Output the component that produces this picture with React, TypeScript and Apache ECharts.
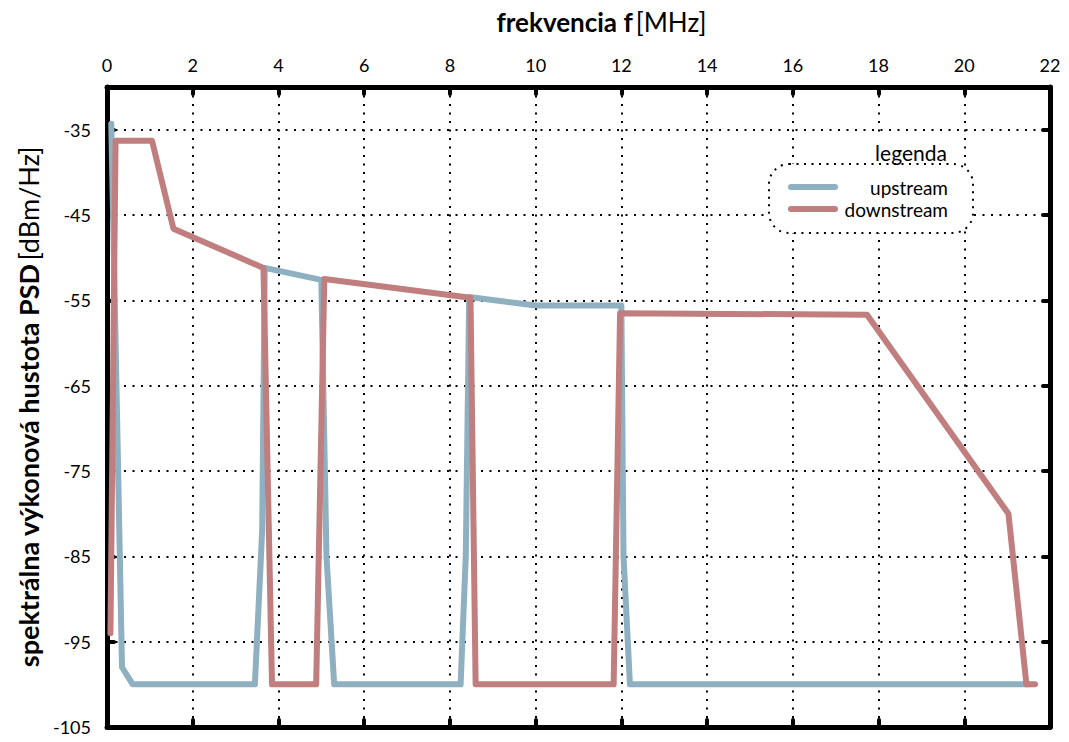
import React, { useEffect, useRef } from "react";
import * as echarts from "echarts";

const upX = [0.1, 0.35, 0.6, 3.45, 3.62, 3.68, 5.0, 5.12, 5.3, 8.25, 8.37, 8.45, 10.0, 12.0, 12.05, 12.2, 21.5];
const upY = [-34.3, -98, -100, -100, -82, -51.2, -52.6, -85, -100, -100, -85, -54.6, -55.6, -55.6, -85, -100, -100];

const dnX = [0.08, 0.2, 1.05, 1.55, 3.65, 3.85, 4.88, 5.07, 8.48, 8.6, 11.82, 11.97, 17.73, 21.03, 21.45, 21.65];
const dnY = [-94, -36.3, -36.3, -46.6, -51.2, -100, -100, -52.5, -54.7, -100, -100, -56.5, -56.7, -80, -100, -100];

const seriesNames = ["upstream", "downstream"];
const colors = ["#8fb0c0", "#c07e7e"];

const FONT = "Lato, 'Open Sans', sans-serif";

export default function App() {
  const ref = useRef<HTMLDivElement>(null);
  useEffect(() => {
    if (!ref.current) return;
    const chart = echarts.init(ref.current, undefined, { renderer: "svg" });
    const upData = upX.map((x, i) => [x, upY[i]]);
    const dnData = dnX.map((x, i) => [x, dnY[i]]);
    const gridLine = { show: true, lineStyle: { color: "#000", width: 2, type: [2, 6.5] as any } };
    const axisLine = { show: true, onZero: false, lineStyle: { color: "#000", width: 5 } };
    const axisTick = { show: true, inside: true, length: 7, lineStyle: { color: "#000", width: 4, cap: "round" as any } };
    chart.setOption({
      animation: false,
      textStyle: { fontFamily: FONT },
      grid: { left: 107, right: 19, top: 87, bottom: 15, containLabel: false, outerBoundsMode: "none" },
      xAxis: [
        {
          type: "value",
          position: "top",
          min: 0,
          max: 22,
          interval: 2,
          axisLine,
          axisTick,
          splitLine: gridLine,
          axisLabel: { color: "#000", fontSize: 18, margin: 13, fontFamily: FONT },
          name: "{b|frekvencia f} {n|[MHz]}",
          nameLocation: "middle",
          nameGap: 52,
          nameTextStyle: {
            padding: [0, 0, 0, 46],
            rich: {
              b: { fontSize: 26, fontWeight: "bold", color: "#000", fontFamily: FONT },
              n: { fontSize: 26, color: "#000", fontFamily: FONT },
            },
          },
        },
        {
          type: "value",
          position: "bottom",
          min: 0,
          max: 22,
          interval: 2,
          axisLine,
          axisTick,
          splitLine: { show: false },
          axisLabel: { show: false },
        },
      ],
      yAxis: [
        {
          type: "value",
          position: "left",
          min: -105,
          max: -30,
          interval: 10,
          axisLine,
          axisTick,
          splitLine: gridLine,
          axisLabel: { color: "#000", fontSize: 18, margin: 16, showMaxLabel: false, fontFamily: FONT },
          name: "{b|spektrálna výkonová hustota PSD} {n|[dBm/Hz]}",
          nameLocation: "middle",
          nameRotate: 90,
          nameGap: 64,
          nameTextStyle: {
            rich: {
              b: { fontSize: 27, fontWeight: "bold", color: "#000", fontFamily: FONT },
              n: { fontSize: 27, color: "#000", fontFamily: FONT },
            },
          },
        },
        {
          type: "value",
          position: "right",
          min: -105,
          max: -30,
          interval: 10,
          axisLine,
          axisTick,
          splitLine: { show: false },
          axisLabel: { show: false },
        },
      ],
      series: [
        {
          name: seriesNames[0],
          type: "line",
          data: upData,
          showSymbol: false,
          symbol: "none",
          lineStyle: { color: colors[0], width: 6, join: "round", cap: "round" },
          z: 3,
        },
        {
          name: seriesNames[1],
          type: "line",
          data: dnData,
          showSymbol: false,
          symbol: "none",
          lineStyle: { color: colors[1], width: 6, join: "round", cap: "round" },
          z: 4,
        },
      ],
      graphic: [
        { type: "rect", z: 10, shape: { x: 800, y: 133, width: 155, height: 32 }, style: { fill: "#fff" } },
        {
          type: "rect",
          z: 11,
          shape: { x: 769, y: 164, width: 204, height: 69, r: 20 },
          style: { fill: "#fff", stroke: "#000", lineWidth: 2, lineDash: [2, 5.5] },
        },
        {
          type: "text",
          z: 12,
          x: 911,
          y: 152,
          style: { text: "legenda", fill: "#000", font: `21px ${FONT}`, align: "center", verticalAlign: "middle" },
        },
        {
          type: "line",
          z: 12,
          shape: { x1: 791, y1: 187, x2: 835, y2: 187 },
          style: { stroke: colors[0], lineWidth: 6, lineCap: "round" },
        },
        {
          type: "line",
          z: 12,
          shape: { x1: 791, y1: 209, x2: 835, y2: 209 },
          style: { stroke: colors[1], lineWidth: 6, lineCap: "round" },
        },
        {
          type: "text",
          z: 12,
          x: 948,
          y: 187,
          style: { text: seriesNames[0], fill: "#000", font: `19px ${FONT}`, align: "right", verticalAlign: "middle" },
        },
        {
          type: "text",
          z: 12,
          x: 948,
          y: 209,
          style: { text: seriesNames[1], fill: "#000", font: `19px ${FONT}`, align: "right", verticalAlign: "middle" },
        },
      ],
    });
    return () => chart.dispose();
  }, []);
  return (
    <div
      ref={ref}
      style={{ position: "fixed", left: 0, top: 0, width: 1069, height: 742, background: "#fff" }}
    />
  );
}
